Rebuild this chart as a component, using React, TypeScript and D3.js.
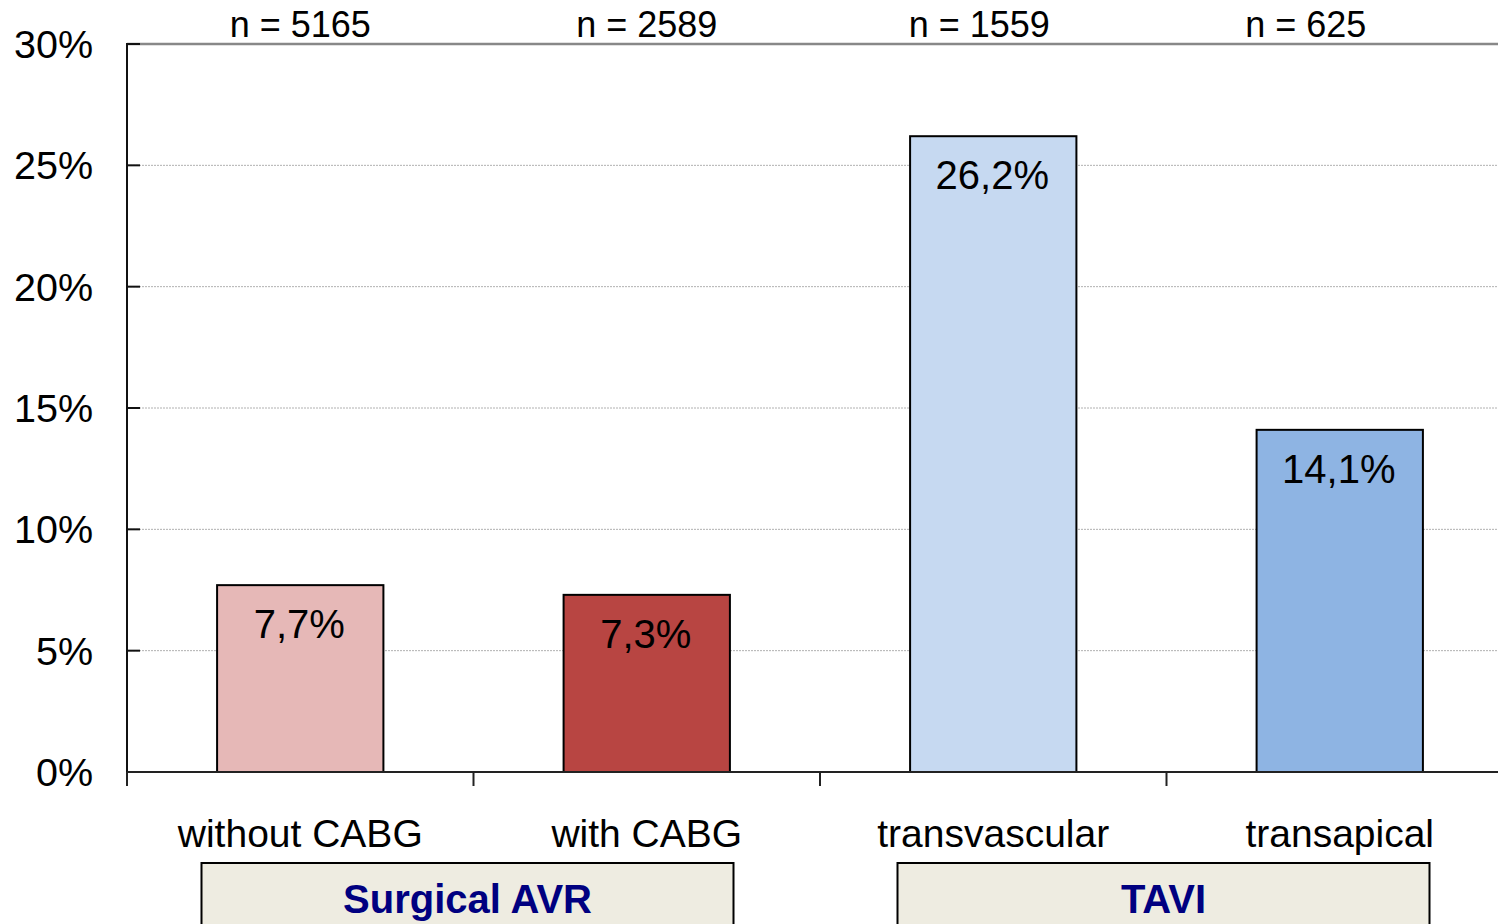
import React from "react";
import * as d3 from "d3";

const categories = ["without CABG", "with CABG", "transvascular", "transapical"];
const values = [7.7, 7.3, 26.2, 14.1];
const valueLabels = ["7,7%", "7,3%", "26,2%", "14,1%"];
const nLabels = ["n = 5165", "n = 2589", "n = 1559", "n = 625"];
const barColors = ["#E6B8B7", "#B84542", "#C6D9F1", "#8EB4E3"];
const yTicks = [0, 5, 10, 15, 20, 25, 30];
const groups = [
  { name: "Surgical AVR", from: 0, to: 1 },
  { name: "TAVI", from: 2, to: 3 },
];

const W = 1498;
const H = 924;
const left = 127;
const top = 44;
const bottom = 772;
const bandW = 346.5;
const font = "'Liberation Sans', Arial, sans-serif";

export default function App() {
  const x = d3
    .scaleBand<string>()
    .domain(categories)
    .range([left, left + bandW * categories.length])
    .paddingInner(0.52)
    .paddingOuter(0.26);
  const y = d3.scaleLinear().domain([0, 30]).range([bottom, top]);
  const step = x.step();
  const bandStart = (i: number) => left + step * i;
  const center = (c: string) => (x(c) as number) + x.bandwidth() / 2;
  const nShift = [0, 0, -14, -34];

  return (
    <div style={{ position: "absolute", left: 0, top: 0 }}>
      <svg width={W} height={H} style={{ display: "block" }}>
        <rect x={0} y={0} width={W} height={H} fill="#fff" />
        {yTicks
          .filter((t) => t > 0 && t < 30)
          .map((t) => (
            <line
              key={t}
              x1={left}
              x2={W}
              y1={y(t)}
              y2={y(t)}
              stroke="#b0b0b0"
              strokeWidth={1}
              strokeDasharray="2,1"
            />
          ))}
        <line x1={left} x2={W} y1={y(30)} y2={y(30)} stroke="#888" strokeWidth={2.5} />
        {categories.map((c, i) => (
          <rect
            key={c}
            x={x(c)}
            y={y(values[i])}
            width={x.bandwidth()}
            height={y(0) - y(values[i])}
            fill={barColors[i]}
            stroke="#000"
            strokeWidth={2}
          />
        ))}
        <line x1={left} x2={left} y1={top - 1} y2={bottom + 14} stroke="#111" strokeWidth={2} />
        {yTicks.map((t) => (
          <g key={t}>
            <line x1={left} x2={left + 13} y1={y(t)} y2={y(t)} stroke="#111" strokeWidth={2} />
            <text
              x={93}
              y={y(t) + 14}
              textAnchor="end"
              fontFamily={font}
              fontSize={39.5}
              fill="#000"
            >
              {t}%
            </text>
          </g>
        ))}
        <line x1={left} x2={W} y1={bottom} y2={bottom} stroke="#222" strokeWidth={2} />
        {categories.map((c, i) => (
          <line
            key={c}
            x1={bandStart(i)}
            x2={bandStart(i)}
            y1={bottom}
            y2={bottom + 14}
            stroke="#222"
            strokeWidth={2}
          />
        ))}
        {categories.map((c) => (
          <text
            key={c}
            x={center(c)}
            y={847}
            textAnchor="middle"
            fontFamily={font}
            fontSize={39}
            fill="#000"
          >
            {c}
          </text>
        ))}
        {categories.map((c, i) => (
          <text
            key={c}
            x={center(c) - 1}
            y={y(values[i]) + 53}
            textAnchor="middle"
            fontFamily={font}
            fontSize={40}
            fill="#000"
          >
            {valueLabels[i]}
          </text>
        ))}
        {categories.map((c, i) => (
          <text
            key={c}
            x={center(c) + nShift[i]}
            y={37}
            textAnchor="middle"
            fontFamily={font}
            fontSize={36}
            fill="#000"
          >
            {nLabels[i]}
          </text>
        ))}
        {groups.map((g) => {
          const cx = (bandStart(g.from) + bandStart(g.to + 1)) / 2 - (g.from === 0 ? 6 : 3);
          const bw = 532;
          return (
            <g key={g.name}>
              <rect
                x={cx - bw / 2}
                y={863}
                width={bw}
                height={80}
                fill="#EEECE1"
                stroke="#000"
                strokeWidth={2}
              />
              <text
                x={cx}
                y={913}
                textAnchor="middle"
                fontFamily={font}
                fontSize={40}
                fontWeight="bold"
                fill="#000080"
              >
                {g.name}
              </text>
            </g>
          );
        })}
      </svg>
    </div>
  );
}
